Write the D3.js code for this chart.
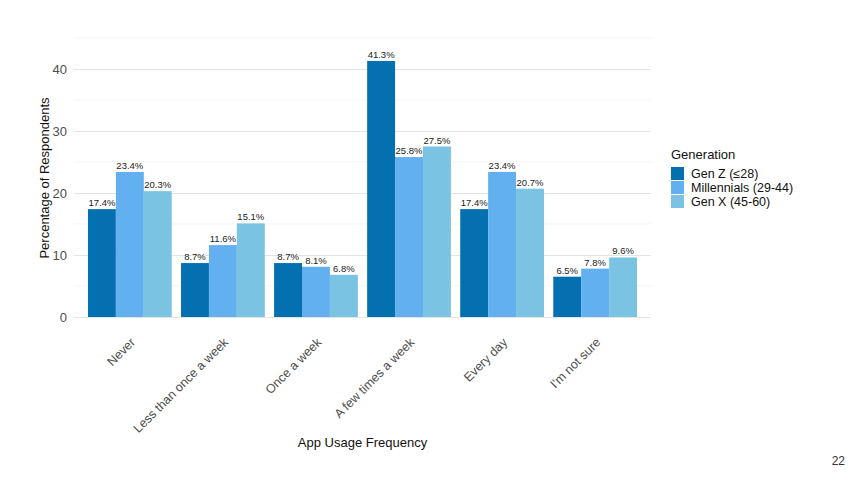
<!DOCTYPE html>
<html lang="en">
<head>
    <meta charset="UTF-8">
    <title>App Usage Frequency by Generation</title>
    <script src="https://d3js.org/d3.v7.min.js"></script>
    <style>
        body { margin: 0; background: white; }
        text { font-family: "Liberation Sans", Arial, sans-serif; }
    </style>
</head>
<body>
    <svg width="864" height="486"></svg>

    <script>
        const width = 864, height = 486;

        // Data
        const categories = ["Never", "Less than once a week", "Once a week", "A few times a week", "Every day", "I'm not sure"];
        const generations = ["Gen Z (≤28)", "Millennials (29-44)", "Gen X (45-60)"];
        const genZ = [17.4, 8.7, 8.7, 41.3, 17.4, 6.5];
        const millennials = [23.4, 11.6, 8.1, 25.8, 23.4, 7.8];
        const genX = [20.3, 15.1, 6.8, 27.5, 20.7, 9.6];
        const majorTicks = [0, 10, 20, 30, 40];
        const minorTicks = [5, 15, 25, 35, 45];
        const colors = ["#0570b0", "#63b0f0", "#7ac3e2"];

        const seriesValues = [genZ, millennials, genX];
        const rows = categories.map((c, i) => ({
            category: c,
            values: seriesValues.map((s, j) => ({ gen: generations[j], value: s[i] }))
        }));

        const panel = { left: 74, right: 651, top: 30, bottom: 317 };

        const svg = d3.select("svg");

        const x = d3.scaleBand()
                    .domain(categories)
                    .range([panel.left, panel.right])
                    .paddingInner(0.1)
                    .paddingOuter(0.15);

        const xInner = d3.scaleBand()
                         .domain(generations)
                         .range([0, x.bandwidth()]);

        const y = d3.scaleLinear()
                    .domain([0, 45])
                    .range([panel.bottom, panel.bottom - 45 * 6.2]);

        const color = d3.scaleOrdinal().domain(generations).range(colors);

        // Gridlines
        svg.append("g")
           .selectAll("line.minor")
           .data(minorTicks)
           .enter().append("line")
           .attr("x1", panel.left).attr("x2", panel.right)
           .attr("y1", d => y(d)).attr("y2", d => y(d))
           .attr("stroke", "#ececec")
           .attr("stroke-width", 0.6);

        svg.append("g")
           .attr("transform", `translate(${panel.left},0)`)
           .call(d3.axisLeft(y)
                   .tickValues(majorTicks)
                   .tickSize(-(panel.right - panel.left))
                   .tickPadding(7))
           .call(g => g.select(".domain").remove())
           .call(g => g.selectAll(".tick line").attr("stroke", "#e4e4e4").attr("stroke-width", 1))
           .call(g => g.selectAll(".tick text")
                       .attr("fill", "#4d4d4d")
                       .style("font-size", "13px"));

        // Bars
        const groups = svg.append("g")
                          .selectAll("g")
                          .data(rows)
                          .enter().append("g")
                          .attr("transform", d => `translate(${x(d.category)},0)`);

        groups.selectAll("rect")
              .data(d => d.values)
              .enter().append("rect")
              .attr("x", d => xInner(d.gen))
              .attr("y", d => y(d.value))
              .attr("width", xInner.bandwidth())
              .attr("height", d => y(0) - y(d.value))
              .attr("fill", d => color(d.gen));

        groups.selectAll("text")
              .data(d => d.values)
              .enter().append("text")
              .attr("x", d => xInner(d.gen) + xInner.bandwidth() / 2)
              .attr("y", d => y(d.value) - 3)
              .attr("text-anchor", "middle")
              .style("font-size", "9.5px")
              .attr("fill", "#222")
              .text(d => d.value.toFixed(1) + "%");

        // X axis
        svg.append("g")
           .attr("transform", `translate(0,${panel.bottom})`)
           .call(d3.axisBottom(x).tickSize(0).tickPadding(0))
           .call(g => g.select(".domain").remove())
           .call(g => g.selectAll(".tick text")
                       .attr("transform", "translate(3,23) rotate(-45)")
                       .attr("text-anchor", "end")
                       .attr("dy", "0.35em")
                       .attr("y", 0)
                       .attr("fill", "#4d4d4d")
                       .style("font-size", "12.5px"));

        // Axis titles
        svg.append("text")
           .attr("x", (panel.left + panel.right) / 2)
           .attr("y", 447)
           .attr("text-anchor", "middle")
           .style("font-size", "13px")
           .attr("fill", "#111")
           .text("App Usage Frequency");

        svg.append("text")
           .attr("transform", "rotate(-90)")
           .attr("x", -(panel.bottom + 39) / 2)
           .attr("y", 49)
           .attr("text-anchor", "middle")
           .style("font-size", "13px")
           .attr("fill", "#111")
           .text("Percentage of Respondents");

        // Legend
        const legend = svg.append("g")
                          .attr("transform", "translate(671,159)");

        legend.append("text")
              .attr("x", 0)
              .attr("y", 0)
              .style("font-size", "13px")
              .attr("fill", "#111")
              .text("Generation");

        const items = legend.selectAll("g.item")
                            .data(generations)
                            .enter().append("g")
                            .attr("class", "item")
                            .attr("transform", (d, i) => `translate(0,${8 + i * 14})`);

        items.append("rect")
             .attr("width", 13)
             .attr("height", 13)
             .attr("fill", d => color(d));

        items.append("text")
             .attr("x", 20)
             .attr("y", 11)
             .style("font-size", "12.5px")
             .attr("fill", "#111")
             .text(d => d);

        // Page number
        svg.append("text")
           .attr("x", 845)
           .attr("y", 465)
           .attr("text-anchor", "end")
           .style("font-size", "12px")
           .attr("fill", "#333")
           .text("22");
    </script>
</body>
</html>
